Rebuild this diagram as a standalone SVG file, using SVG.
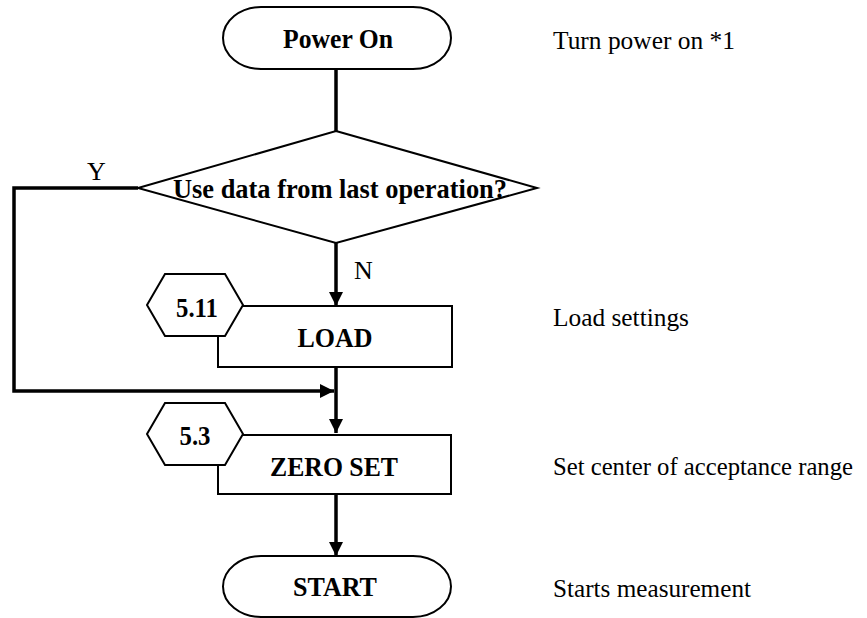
<svg xmlns="http://www.w3.org/2000/svg" width="867" height="618" viewBox="0 0 867 618">
<defs>
<style>
.shape{fill:#fff;stroke:#000;stroke-width:2}
.b{font-family:"Liberation Serif","Times New Roman",serif;font-weight:bold;font-size:28px;text-anchor:middle;fill:#000}
.r{font-family:"Liberation Serif","Times New Roman",serif;font-size:26px;fill:#000}
.c{fill:none;stroke:#000;stroke-width:3.5}
</style>
<marker id="ah" viewBox="0 0 10 10" refX="10" refY="5" markerWidth="4" markerHeight="4" markerUnits="strokeWidth" orient="auto">
<path d="M0,0 L10,5 L0,10 Z" fill="#000"/>
</marker>
</defs>
<rect width="867" height="618" fill="#fff"/>
<g id="connectors">
<line class="c" x1="336" y1="69" x2="336" y2="132"/>
<line class="c" x1="336" y1="243" x2="336" y2="306" marker-end="url(#ah)"/>
<polyline class="c" points="138,188 14,188 14,391 334,391" marker-end="url(#ah)"/>
<line class="c" x1="336" y1="367" x2="336" y2="433" marker-end="url(#ah)"/>
<line class="c" x1="336" y1="494" x2="336" y2="556" marker-end="url(#ah)"/>
<text class="r" x="87" y="180">Y</text>
<text class="r" x="354" y="279">N</text>
</g>
<g id="power-on">
<path class="shape" d="M261,7 H413 A38,31 0 0 1 413,69 H261 A38,31 0 0 1 261,7 Z"/>
<text class="b" x="338" y="48" textLength="110" lengthAdjust="spacingAndGlyphs">Power On</text>
</g>
<g id="decision">
<polygon class="shape" points="336,131 537,188 336,243 138,188"/>
<text class="b" x="340" y="198" textLength="334" lengthAdjust="spacingAndGlyphs">Use data from last operation?</text>
</g>
<g id="load">
<rect class="shape" x="218" y="306" width="234" height="61"/>
<polygon class="shape" points="165,274 225,274 243,305 225,336 165,336 147,305"/>
<text class="b" x="197" y="317" font-size="26" textLength="42" lengthAdjust="spacingAndGlyphs">5.11</text>
<text class="b" x="335" y="347" textLength="75" lengthAdjust="spacingAndGlyphs">LOAD</text>
</g>
<g id="zero-set">
<rect class="shape" x="218" y="435" width="233" height="59"/>
<polygon class="shape" points="165,403 225,403 243,434 225,465 165,465 147,434"/>
<text class="b" x="195" y="445" font-size="26" textLength="31" lengthAdjust="spacingAndGlyphs">5.3</text>
<text class="b" x="334" y="476" textLength="128" lengthAdjust="spacingAndGlyphs">ZERO SET</text>
</g>
<g id="start">
<path class="shape" d="M261,556 H413 A38,30.5 0 0 1 413,617 H261 A38,30.5 0 0 1 261,556 Z"/>
<text class="b" x="335" y="596" textLength="84" lengthAdjust="spacingAndGlyphs">START</text>
</g>
<g id="notes">
<text class="r" x="553" y="49" textLength="182" lengthAdjust="spacingAndGlyphs">Turn power on *1</text>
<text class="r" x="553" y="326" textLength="136" lengthAdjust="spacingAndGlyphs">Load settings</text>
<text class="r" x="553" y="475" font-size="24.5" textLength="300" lengthAdjust="spacingAndGlyphs">Set center of acceptance range</text>
<text class="r" x="553" y="597" textLength="198" lengthAdjust="spacingAndGlyphs">Starts measurement</text>
</g>
</svg>
